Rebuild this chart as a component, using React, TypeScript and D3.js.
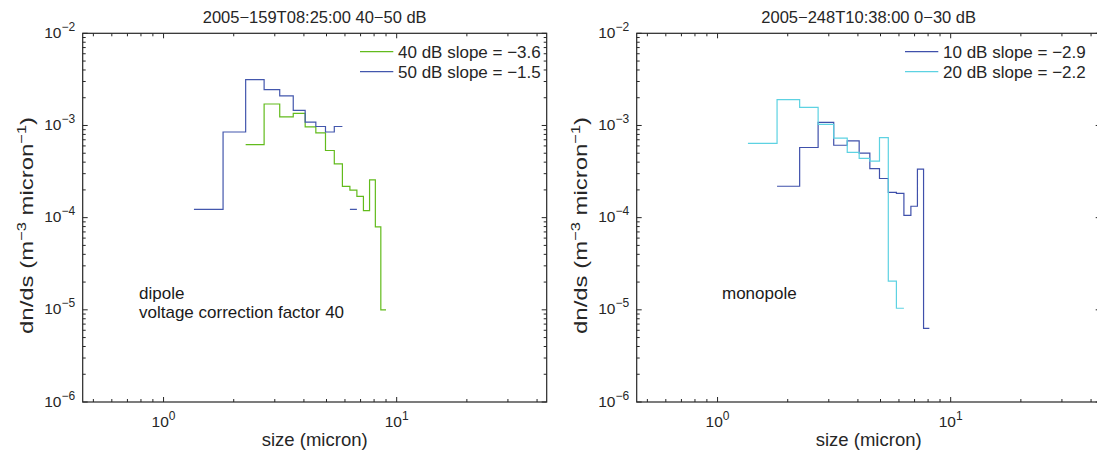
import React from 'react'
import * as d3 from 'd3'

// bin edges (micron) shared by all size distributions
const binEdges = [1.35, 1.8, 2.25, 2.7, 3.15, 3.6, 4.05, 4.5, 4.95, 5.4, 5.85, 6.3, 6.75, 7.2, 7.65, 8.1, 8.55, 9.0]

// dn/ds per bin, null = empty bin
const dipole40dB = [null, null, 6.2e-4, 1.71e-3, 1.24e-3, 1.35e-3, 9.65e-4, 8.3e-4, 5.35e-4, 3.83e-4, 2.18e-4, 1.99e-4, 1.7e-4, 1.19e-4, 2.57e-4, 7.95e-5, 1.0e-5]
const dipole50dB = [1.23e-4, 8.5e-4, 3.15e-3, 2.45e-3, 2.09e-3, 1.46e-3, 1.09e-3, 9.75e-4, 8.5e-4, 9.75e-4, null, 1.23e-4, null, null, null, null, null]
const monopole10dB = [null, 2.19e-4, 5.77e-4, 1.08e-3, 6.1e-4, 6.8e-4, 5.0e-4, 3.4e-4, 2.66e-4, 1.88e-4, 1.83e-4, 1.06e-4, 1.33e-4, 3.36e-4, 6.3e-6, null, null]
const monopole20dB = [6.4e-4, 1.91e-3, 1.57e-3, 1.03e-3, 7.3e-4, 5.1e-4, 4.4e-4, 4.1e-4, 7.4e-4, 2.05e-5, 1.04e-5, null, null, null, null, null, null]

const xDomain = [0.45, 44]
const yDomain = [1e-6, 1e-2]

const FONT = '"Liberation Sans", Arial, Helvetica, sans-serif'
const INK = '#262626'
const W = 1097
const H = 452
const plotTop = 33.3
const plotBottom = 402
const plotW = 464

type Series = { label: string; values: (number | null)[]; color: string }

function stepPoints(values: (number | null)[]) {
  const pts: ([number, number] | null)[] = []
  values.forEach((v, i) => {
    if (v == null) {
      pts.push(null)
      return
    }
    pts.push([binEdges[i], v], [binEdges[i + 1], v])
  })
  return pts
}

function sup(exp: number) {
  return exp < 0 ? `\u2212${-exp}` : `${exp}`
}

function Panel({ left, title, series, legendX, notes, noteX }: {
  left: number
  title: string
  series: Series[]
  legendX: number
  notes: string[]
  noteX: number
}) {
  const x = d3.scaleLog().domain(xDomain).range([left, left + plotW])
  const y = d3.scaleLog().domain(yDomain).range([plotBottom, plotTop])
  const line = d3.line<[number, number] | null>()
    .defined((d) => d !== null)
    .x((d) => x(d![0]))
    .y((d) => y(d![1]))

  const isMajor = (v: number) => Math.abs(Math.log10(v) - Math.round(Math.log10(v))) < 1e-9
  const xTicks = x.ticks()
  const yTicks = y.ticks()
  const right = left + plotW

  return (
    <g>
      <text x={left + plotW / 2} y={22.5} textAnchor="middle" fontSize={16.5} fill={INK}>{title}</text>

      {/* x ticks, inside, bottom and top */}
      {xTicks.map((v, i) => {
        const len = isMajor(v) ? 5 : 3
        return (
          <g key={'x' + i}>
            <line x1={x(v)} x2={x(v)} y1={plotBottom} y2={plotBottom - len} stroke={INK} />
            <line x1={x(v)} x2={x(v)} y1={plotTop} y2={plotTop + len} stroke={INK} />
          </g>
        )
      })}
      {yTicks.map((v, i) => {
        const len = isMajor(v) ? 5 : 3
        return (
          <g key={'y' + i}>
            <line x1={left} x2={left + len} y1={y(v)} y2={y(v)} stroke={INK} />
            <line x1={right} x2={right - len} y1={y(v)} y2={y(v)} stroke={INK} />
          </g>
        )
      })}

      {xTicks.filter(isMajor).map((v, i) => (
        <text key={'xl' + i} x={x(v)} y={427} textAnchor="middle" fontSize={15.5} fill={INK}>
          10<tspan dy={-7} fontSize={12}>{sup(Math.round(Math.log10(v)))}</tspan>
        </text>
      ))}
      {yTicks.filter(isMajor).map((v, i) => (
        <text key={'yl' + i} x={left - 7.5} y={y(v) + 4.5} textAnchor="end" fontSize={15.5} fill={INK}>
          10<tspan dy={-7} fontSize={12}>{sup(Math.round(Math.log10(v)))}</tspan>
        </text>
      ))}

      <text x={left + plotW / 2} y={446} textAnchor="middle" fontSize={18.5} fill={INK}>size (micron)</text>
      <text
        transform={`translate(${left - 49.5},${225.5}) rotate(-90)`}
        textAnchor="middle"
        fontSize={19}
        fill={INK}
        textLength={217}
        lengthAdjust="spacingAndGlyphs"
      >
        dn/ds (m<tspan dy={-7.5} fontSize={13}>{'\u22123'}</tspan>
        <tspan dy={7.5}> micron</tspan>
        <tspan dy={-7.5} fontSize={13}>{'\u22121'}</tspan>
        <tspan dy={7.5}>)</tspan>
      </text>

      {series.map((s) => (
        <path key={s.label} d={line(stepPoints(s.values)) || ''} fill="none" stroke={s.color} strokeWidth={1.2} />
      ))}

      {/* legend */}
      {series.map((s, i) => (
        <g key={'lg' + i}>
          <line x1={left + legendX} x2={left + legendX + 33.3} y1={51.7 + i * 20} y2={51.7 + i * 20} stroke={s.color} strokeWidth={1.2} />
          <text x={left + legendX + 38} y={57.5 + i * 20} fontSize={17} fill={INK}>{s.label}</text>
        </g>
      ))}

      {notes.map((n, i) => (
        <text key={'n' + i} x={left + noteX} y={299 + i * 19} fontSize={17} fill="#1a1a1a">{n}</text>
      ))}

      <rect x={left} y={plotTop} width={plotW} height={plotBottom - plotTop} fill="none" stroke={INK} strokeWidth={1.2} />
    </g>
  )
}

export default function App() {
  return (
    <div style={{ position: 'absolute', left: 0, top: 0, width: W, height: H, overflow: 'hidden', background: '#fff' }}>
      <svg width={W} height={H} style={{ display: 'block', fontFamily: FONT }}>
        <rect width={W} height={H} fill="#fff" />
        <Panel
          left={82.7}
          title={'2005\u2212159T08:25:00 40\u221250 dB'}
          series={[
            { label: '40 dB slope = \u22123.6', values: dipole40dB, color: '#62bb1c' },
            { label: '50 dB slope = \u22121.5', values: dipole50dB, color: '#4357ad' },
          ]}
          legendX={277.3}
          notes={['dipole', 'voltage correction factor 40']}
          noteX={56.3}
        />
        <Panel
          left={636.7}
          title={'2005\u2212248T10:38:00 0\u221230 dB'}
          series={[
            { label: '10 dB slope = \u22122.9', values: monopole10dB, color: '#3f50ab' },
            { label: '20 dB slope = \u22122.2', values: monopole20dB, color: '#5dd2e2' },
          ]}
          legendX={268.3}
          notes={['monopole']}
          noteX={85.3}
        />
      </svg>
    </div>
  )
}
